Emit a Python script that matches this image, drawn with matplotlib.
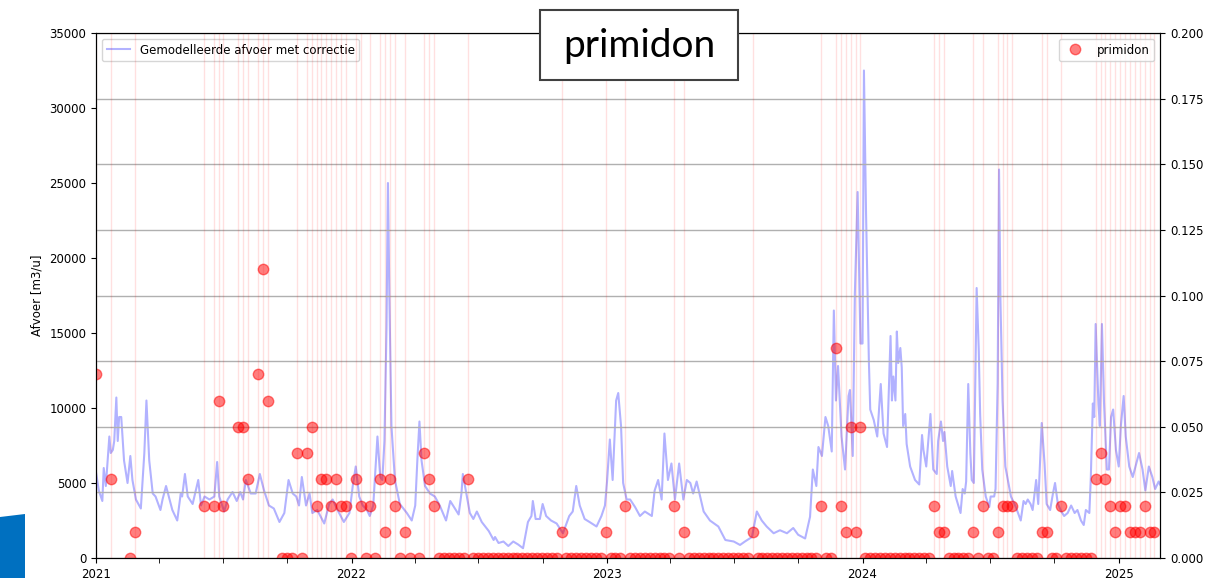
import numpy as np
import pandas as pd
import matplotlib
matplotlib.use("Agg")
import matplotlib.pyplot as plt
import matplotlib.dates as mdates
from matplotlib.patches import Polygon, Rectangle

# modelled discharge with correction [m3/u]
flow_dates = [
    "2021-01-01", "2021-01-05", "2021-01-10", "2021-01-12", "2021-01-15", "2021-01-20", "2021-01-22",
    "2021-01-25", "2021-01-27", "2021-01-30", "2021-02-01", "2021-02-03", "2021-02-06", "2021-02-10",
    "2021-02-15", "2021-02-19", "2021-02-22", "2021-02-27", "2021-03-06", "2021-03-11", "2021-03-14",
    "2021-03-18", "2021-03-23", "2021-03-27", "2021-04-03", "2021-04-06", "2021-04-11", "2021-04-16",
    "2021-04-20", "2021-04-27", "2021-05-02", "2021-05-04", "2021-05-08", "2021-05-12", "2021-05-19",
    "2021-05-27", "2021-05-31", "2021-06-05", "2021-06-12", "2021-06-19", "2021-06-23", "2021-06-26",
    "2021-07-03", "2021-07-08", "2021-07-15", "2021-07-21", "2021-07-26", "2021-07-30", "2021-08-03",
    "2021-08-10", "2021-08-17", "2021-08-23", "2021-08-29", "2021-09-05", "2021-09-12", "2021-09-20",
    "2021-09-27", "2021-10-03", "2021-10-09", "2021-10-14", "2021-10-18", "2021-10-22", "2021-10-28",
    "2021-11-02", "2021-11-06", "2021-11-13", "2021-11-23", "2021-11-30", "2021-12-05", "2021-12-12",
    "2021-12-21", "2021-12-29",
    "2022-01-03", "2022-01-07", "2022-01-12", "2022-01-17", "2022-01-23", "2022-01-27", "2022-02-01",
    "2022-02-05", "2022-02-07", "2022-02-11", "2022-02-14", "2022-02-17", "2022-02-20", "2022-02-22",
    "2022-02-24", "2022-02-27", "2022-03-04", "2022-03-11", "2022-03-21", "2022-03-28", "2022-04-02",
    "2022-04-05", "2022-04-08", "2022-04-11", "2022-04-16", "2022-04-23", "2022-04-30", "2022-05-07",
    "2022-05-16", "2022-05-22", "2022-05-26", "2022-06-03", "2022-06-07", "2022-06-09", "2022-06-14",
    "2022-06-19", "2022-06-24", "2022-06-29", "2022-07-06", "2022-07-16", "2022-07-23", "2022-07-25",
    "2022-07-30", "2022-08-06", "2022-08-13", "2022-08-20", "2022-08-27", "2022-09-03", "2022-09-10",
    "2022-09-15", "2022-09-17", "2022-09-21", "2022-09-27", "2022-10-01", "2022-10-06", "2022-10-13",
    "2022-10-21", "2022-10-30", "2022-11-08", "2022-11-13", "2022-11-18", "2022-11-23", "2022-11-30",
    "2022-12-07", "2022-12-17", "2022-12-24", "2022-12-29",
    "2023-01-01", "2023-01-05", "2023-01-09", "2023-01-14", "2023-01-17", "2023-01-21", "2023-01-24",
    "2023-01-29", "2023-02-03", "2023-02-10", "2023-02-17", "2023-02-24", "2023-03-06", "2023-03-10",
    "2023-03-15", "2023-03-20", "2023-03-24", "2023-03-29", "2023-04-03", "2023-04-08", "2023-04-14",
    "2023-04-20", "2023-04-25", "2023-04-30", "2023-05-04", "2023-05-09", "2023-05-19", "2023-05-28",
    "2023-06-09", "2023-06-19", "2023-07-01", "2023-07-10", "2023-07-17", "2023-07-27", "2023-08-03",
    "2023-08-10", "2023-08-17", "2023-08-27", "2023-09-05", "2023-09-15", "2023-09-24", "2023-10-01",
    "2023-10-11", "2023-10-18", "2023-10-22", "2023-10-27", "2023-10-30", "2023-11-04", "2023-11-09",
    "2023-11-13", "2023-11-18", "2023-11-21", "2023-11-24", "2023-11-27", "2023-12-02", "2023-12-07",
    "2023-12-12", "2023-12-14", "2023-12-18", "2023-12-21", "2023-12-25", "2023-12-29",
    "2024-01-01", "2024-01-03", "2024-01-06", "2024-01-10", "2024-01-12", "2024-01-17", "2024-01-22",
    "2024-01-27", "2024-01-31", "2024-02-05", "2024-02-10", "2024-02-12", "2024-02-14", "2024-02-17",
    "2024-02-19", "2024-02-21", "2024-02-24", "2024-02-26", "2024-02-28", "2024-03-02", "2024-03-04",
    "2024-03-09", "2024-03-16", "2024-03-22", "2024-03-26", "2024-03-28", "2024-04-01", "2024-04-07",
    "2024-04-11", "2024-04-16", "2024-04-18", "2024-04-22", "2024-04-25", "2024-04-27", "2024-05-01",
    "2024-05-06", "2024-05-08", "2024-05-13", "2024-05-20", "2024-05-23", "2024-05-26", "2024-05-28",
    "2024-05-31", "2024-06-03", "2024-06-05", "2024-06-08", "2024-06-12", "2024-06-15", "2024-06-17",
    "2024-06-20", "2024-06-25", "2024-06-30", "2024-07-02", "2024-07-07", "2024-07-09", "2024-07-12",
    "2024-07-14", "2024-07-16", "2024-07-19", "2024-07-23", "2024-07-31", "2024-08-07", "2024-08-14",
    "2024-08-18", "2024-08-21", "2024-08-24", "2024-08-28", "2024-08-31", "2024-09-05", "2024-09-08",
    "2024-09-13", "2024-09-17", "2024-09-20", "2024-09-25", "2024-09-29", "2024-10-02", "2024-10-06",
    "2024-10-11", "2024-10-15", "2024-10-20", "2024-10-25", "2024-10-30", "2024-11-03", "2024-11-08",
    "2024-11-12", "2024-11-15", "2024-11-20", "2024-11-22", "2024-11-25", "2024-11-27", "2024-11-29",
    "2024-12-03", "2024-12-05", "2024-12-08", "2024-12-11", "2024-12-15", "2024-12-18", "2024-12-21",
    "2024-12-24", "2024-12-28",
    "2025-01-01", "2025-01-04", "2025-01-08", "2025-01-11", "2025-01-16", "2025-01-21", "2025-01-25",
    "2025-01-30", "2025-02-04", "2025-02-08", "2025-02-13", "2025-02-18", "2025-02-22", "2025-02-27",
    "2025-03-01",
]
flow_values = [
    5700, 4500, 3800, 6000, 4800, 8100, 7000,
    7200, 7800, 10700, 7800, 9400, 9400, 6500,
    5000, 6800, 5200, 3900, 3300, 7000, 10500,
    6500, 4300, 4100, 3200, 3900, 4800, 3900,
    3200, 2500, 4300, 4100, 5600, 4100, 3600,
    5200, 3500, 4100, 3900, 4100, 6400, 4100,
    3100, 3900, 4400, 3800, 4400, 3900, 5200,
    4300, 4300, 5600, 4500, 3500, 3300, 2400,
    3000, 5200, 4300, 4100, 3500, 5400, 3500,
    4300, 3000, 3200, 2300, 3600, 3900, 3200,
    2400, 3000,
    4900, 6100, 4100, 3500, 3200, 2800, 3500,
    6500, 8100, 5400, 5200, 7800, 15400, 25000,
    17600, 8800, 5200, 3600, 3000, 2500, 3500,
    6500, 9100, 6500, 4800, 4300, 4100, 3500,
    2500, 3800, 3500, 2900, 4300, 5600, 4300,
    3000, 2600, 3100, 2400, 1800, 1200, 1400,
    1000, 1100, 800, 1100, 900, 650, 2400,
    2800, 3800, 2600, 2600, 3600, 2800, 2500,
    2300, 1650, 2800, 3100, 4800, 3500, 2600,
    2400, 2100, 2800, 3500,
    5100, 7900, 5200, 10500, 11000, 8800, 5000,
    3900, 3900, 3400, 2800, 3100, 2800, 4500,
    5200, 3900, 8300, 5200, 6300, 3900, 6300,
    3900, 5200, 5000, 4300, 5100, 3100, 2500,
    2100, 1200, 1100, 870, 1100, 1400, 3100,
    2500, 2100, 1650, 1850, 1650, 2000, 1550,
    1300, 2750, 5900, 4800, 7400, 6800, 9400,
    8800, 7100, 16500, 10500, 12800, 8100, 5900,
    10800, 11200, 6800, 17600, 24400, 14300,
    14300, 32500, 23000, 13200, 9900, 9200, 8100,
    11600, 8300, 7400, 14800, 10500, 12100, 10500,
    15100, 13000, 14000, 12700, 8800, 9600, 7600,
    6100, 5200, 4900, 8200, 7200, 6100, 9600,
    5900, 5600, 7800, 9100, 7800, 8400, 6100,
    4800, 5800, 4100, 3000, 4600, 4300, 5100,
    11600, 7000, 5200, 5000, 18000, 13900, 9600,
    5900, 4100, 3400, 4100, 4100, 4600, 11600,
    25900, 17200, 10500, 6100, 4100, 3400, 2500,
    3800, 3600, 3900, 3600, 3200, 5200, 3600,
    9000, 6300, 3600, 3200, 4300, 5000, 3600,
    3100, 2800, 3000, 3500, 3000, 3200, 2500,
    2200, 3200, 3000, 5200, 10300, 9400, 15600,
    10300, 8800, 15600, 10300, 5900, 5900, 9400,
    9900, 7200,
    6100, 8800, 10800, 8100, 6100, 5400, 6100,
    7000, 5900, 4500, 6100, 5400, 4600, 5100,
    4900,
]

# primidon concentration, one slot per week starting 2021-01-01 (None = not sampled)
conc_start = "2021-01-01"
conc_values = [
    0.07, None, None, 0.03, None, None, None, 0, 0.01, None,
    None, None, None, None, None, None, None, None, None, None,
    None, None, 0.02, None, 0.02, 0.06, 0.02, None, None, 0.05,
    0.05, 0.03, None, 0.07, 0.11, 0.06, None, None, 0, 0,
    0, 0.04, 0, 0.04, 0.05, 0.02, 0.03, 0.03, 0.02, 0.03,
    0.02, 0.02, 0, 0.03, 0.02, 0, 0.02, 0, 0.03, 0.01,
    0.03, 0.02, 0, 0.01, 0, None, 0, 0.04, 0.03, 0.02,
    0, 0, 0, 0, 0, 0, 0.03, 0, 0, 0,
    0, 0, 0, 0, 0, 0, 0, 0, 0, 0,
    0, 0, 0, 0, 0, 0.01, 0, 0, 0, 0,
    0, 0, 0, 0, 0.01, 0, 0, 0, 0.02, 0,
    0, 0, 0, 0, 0, 0, 0, 0, 0.02, 0,
    0.01, 0, 0, 0, 0, 0, 0, 0, 0, 0,
    0, 0, 0, 0, 0.01, 0, 0, 0, 0, 0,
    0, 0, 0, 0, 0, 0, 0, 0, 0.02, 0,
    0, 0.08, 0.02, 0.01, 0.05, 0.01, 0.05, 0, 0, 0,
    0, 0, 0, 0, 0, 0, 0, 0, 0, 0,
    0, 0.02, 0.01, 0.01, 0, 0, 0, 0, 0, 0.01,
    0, 0.02, 0, 0, 0.01, 0.02, 0.02, 0.02, 0, 0,
    0, 0, 0, 0.01, 0.01, 0, 0, 0.02, 0, 0,
    0, 0, 0, 0, 0.03, 0.04, 0.03, 0.02, 0.01, 0.02,
    0.02, 0.01, 0.01, 0.01, 0.02, 0.01, 0.01,
]

flow_t = pd.to_datetime(flow_dates)
conc_t = pd.date_range(conc_start, periods=len(conc_values), freq="7D")
conc = np.array([np.nan if v is None else v for v in conc_values], dtype=float)

plt.rcParams['font.size'] = 8.5

fig = plt.figure(figsize=(12.08, 5.78), dpi=100)
ax = fig.add_axes([0.0795, 0.0346, 0.8808, 0.9083])
ax2 = ax.twinx()

ax.plot(flow_t, flow_values, color='blue', alpha=0.3, lw=1.5, label='Gemodelleerde afvoer met correctie')
ax.set_ylim(0, 35000)
ax.set_yticks(np.arange(0, 35001, 5000))
ax.set_ylabel('Afvoer [m3/u]')

# faint red line at every date with a detection
for t, c in zip(conc_t, conc):
    if c > 0:
        ax2.axvline(t, color='red', alpha=0.12, lw=1)
ax2.plot(conc_t, conc, 'o', color='red', alpha=0.5, ms=7.5, label='primidon')
ax2.set_ylim(0, 0.2)
ax2.set_yticks(np.arange(0, 0.2001, 0.025))
ax2.yaxis.set_major_formatter(matplotlib.ticker.FormatStrFormatter('%.3f'))
ax2.grid(axis='y', color='#b0b0b0', lw=1)
ax2.set_ylabel('Concentratie [ug/l]')

ax.set_xlim(pd.Timestamp("2021-01-01"), pd.Timestamp("2025-03-01"))
ax.xaxis.set_major_locator(mdates.YearLocator())
ax.xaxis.set_major_formatter(mdates.DateFormatter('%Y'))
ax.xaxis.set_minor_locator(mdates.MonthLocator(bymonth=[4, 7, 10]))
ax.tick_params(axis='x', which='minor', length=3.5)

ax.legend(loc='upper left')
ax2.legend(loc='upper right')

# title box pasted over the top of the chart
fig.patches.append(Rectangle((540 / 1208, 1 - 80 / 578), 198 / 1208, 70 / 578,
                             transform=fig.transFigure, facecolor='white', edgecolor='#404040',
                             lw=1.5, zorder=2, figure=fig))
fig.text(639 / 1208, 1 - 46 / 578, 'primidon', fontsize=28, family='Lato',
         ha='center', va='center', zorder=3)

# blue corner of the slide behind the chart
fig.patches.append(Polygon([(0, 1 - 517 / 578), (25 / 1208, 1 - 514 / 578), (25 / 1208, 0), (0, 0)],
                           closed=True, transform=fig.transFigure, facecolor='#0070c0',
                           edgecolor='none', figure=fig))

fig.savefig('out.png', dpi=100)
